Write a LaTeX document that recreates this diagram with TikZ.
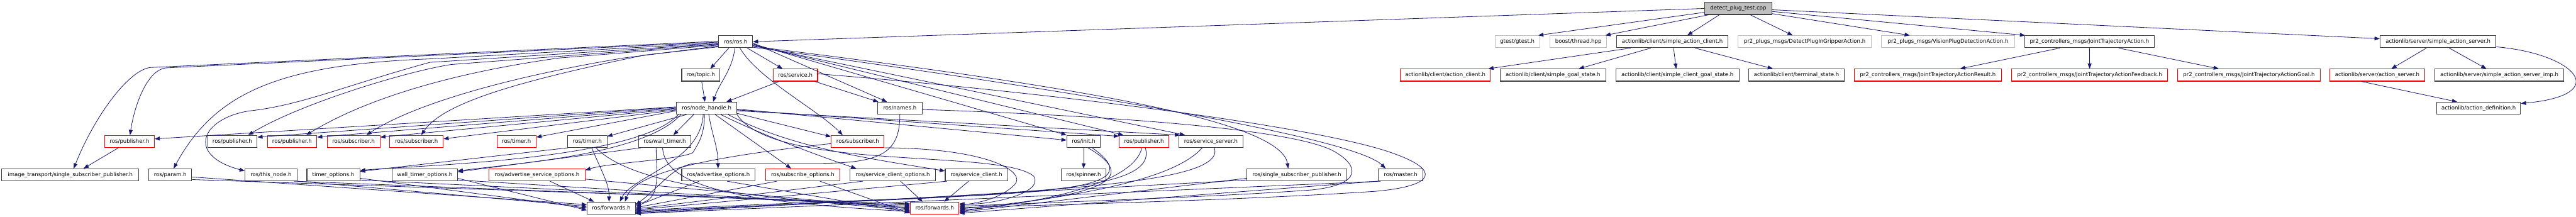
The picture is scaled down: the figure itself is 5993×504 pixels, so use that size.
\documentclass[tikz,border=0pt]{standalone}
\usepackage{fontspec}
\newfontfamily\dvs{DejaVu Sans}
\usetikzlibrary{arrows.meta}
\definecolor{edgecol}{RGB}{25,25,112}
\definecolor{boxblack}{RGB}{64,64,64}
\definecolor{boxgray}{RGB}{191,191,191}
\definecolor{boxred}{RGB}{255,0,0}
\begin{document}
\begin{tikzpicture}[x=1pt,y=-1pt,
  box/.style={draw=boxblack, line width=1.6pt, minimum height=28pt, inner sep=0pt, font=\dvs\fontsize{12.5}{15}\selectfont},
  redbox/.style={box, draw=boxred},
  graybox/.style={box, draw=boxgray},
  rootbox/.style={box, fill=boxgray},
  dep/.style={draw=edgecol, line width=1.2pt, -{Triangle[length=12pt,width=9pt]}}
]
\useasboundingbox[fill=white] (0,0) rectangle (5993,504);
% row 0
\node[rootbox, minimum width=156pt] (root) at (4044,19.7) {detect\_plug\_test.cpp};
% row 1
\node[box, minimum width=79pt] (rosh) at (1711.5,97) {ros/ros.h};
\node[graybox, minimum width=104pt] (gtest) at (3530,97) {gtest/gtest.h};
\node[graybox, minimum width=132pt] (boost) at (3672,97) {boost/thread.hpp};
\node[box, minimum width=259pt] (sac) at (3890.5,97) {actionlib/client/simple\_action\_client.h};
\node[graybox, minimum width=311pt] (dpig) at (4198.5,97) {pr2\_plugs\_msgs/DetectPlugInGripperAction.h};
\node[graybox, minimum width=310pt] (vpd) at (4532,97) {pr2\_plugs\_msgs/VisionPlugDetectionAction.h};
\node[box, minimum width=302pt] (jta) at (4861,97) {pr2\_controllers\_msgs/JointTrajectoryAction.h};
\node[box, minimum width=270pt] (sas) at (5672,97) {actionlib/server/simple\_action\_server.h};
% row 2
\node[box, minimum width=89pt] (topic) at (1630.5,174.7) {ros/topic.h};
\node[redbox, minimum width=103pt] (service) at (1850.5,174.7) {ros/service.h};
\node[redbox, minimum width=209pt] (ac) at (3362.5,174.7) {actionlib/client/action\_client.h};
\node[box, minimum width=246pt] (sgs) at (3613,174.7) {actionlib/client/simple\_goal\_state.h};
\node[box, minimum width=287pt] (scgs) at (3902.5,174.7) {actionlib/client/simple\_client\_goal\_state.h};
\node[box, minimum width=223pt] (term) at (4179.5,174.7) {actionlib/client/terminal\_state.h};
\node[redbox, minimum width=342pt] (jtar) at (4485,174.7) {pr2\_controllers\_msgs/JointTrajectoryActionResult.h};
\node[redbox, minimum width=363pt] (jtaf) at (4861.5,174.7) {pr2\_controllers\_msgs/JointTrajectoryActionFeedback.h};
\node[redbox, minimum width=332pt] (jtag) at (5232,174.7) {pr2\_controllers\_msgs/JointTrajectoryActionGoal.h};
\node[redbox, minimum width=221pt] (asrv) at (5530.5,174.7) {actionlib/server/action\_server.h};
\node[box, minimum width=301pt] (sasi) at (5814.5,174.7) {actionlib/server/simple\_action\_server\_imp.h};
% row 3
\node[box, minimum width=140pt] (nh) at (1644,251.7) {ros/node\_handle.h};
\node[box, minimum width=103pt] (names) at (2093.5,251.7) {ros/names.h};
\node[box, minimum width=195pt] (adef) at (5766.5,251.7) {actionlib/action\_definition.h};
% row 4
\node[redbox, minimum width=115pt] (pubA) at (301.5,329) {ros/publisher.h};
\node[box, minimum width=115pt] (pubB) at (540.5,329) {ros/publisher.h};
\node[redbox, minimum width=115pt] (pubC) at (679.5,329) {ros/publisher.h};
\node[redbox, minimum width=123pt] (subA) at (822.5,329) {ros/subscriber.h};
\node[redbox, minimum width=124pt] (subB) at (969,329) {ros/subscriber.h};
\node[redbox, minimum width=91pt] (timA) at (1201.5,329) {ros/timer.h};
\node[box, minimum width=91pt] (timB) at (1366.5,329) {ros/timer.h};
\node[box, minimum width=121pt] (wtim) at (1546.5,329) {ros/wall\_timer.h};
\node[redbox, minimum width=123pt] (subC) at (1995.5,329) {ros/subscriber.h};
\node[box, minimum width=78pt] (init) at (2521,329) {ros/init.h};
\node[redbox, minimum width=115pt] (pubD) at (2661.5,329) {ros/publisher.h};
\node[box, minimum width=150pt] (ssrv) at (2817,329) {ros/service\_server.h};
% row 5
\node[box, minimum width=319pt] (itssp) at (163.5,406.7) {image\_transport/single\_subscriber\_publisher.h};
\node[box, minimum width=100pt] (param) at (396,406.7) {ros/param.h};
\node[box, minimum width=121pt] (thisn) at (630.5,406.7) {ros/this\_node.h};
\node[box, minimum width=123pt] (topt) at (775.5,406.7) {timer\_options.h};
\node[box, minimum width=152pt] (wtopt) at (988,406.7) {wall\_timer\_options.h};
\node[redbox, minimum width=223pt] (asopt) at (1249.5,406.7) {ros/advertise\_service\_options.h};
\node[box, minimum width=171pt] (aopt) at (1671.5,406.7) {ros/advertise\_options.h};
\node[redbox, minimum width=173pt] (sopt) at (1867.5,406.7) {ros/subscribe\_options.h};
\node[box, minimum width=198pt] (scopt) at (2077,406.7) {ros/service\_client\_options.h};
\node[box, minimum width=145pt] (sc) at (2271.5,406.7) {ros/service\_client.h};
\node[box, minimum width=104pt] (spin) at (2521,406.7) {ros/spinner.h};
\node[box, minimum width=232pt] (ssp) at (3017,406.7) {ros/single\_subscriber\_publisher.h};
\node[box, minimum width=103pt] (master) at (3258.5,406.7) {ros/master.h};
% row 6
\node[box, minimum width=112pt] (fwdA) at (1422,484) {ros/forwards.h};
\node[redbox, minimum width=113pt] (fwdB) at (2174.5,484) {ros/forwards.h};

% ---- root
\draw[dep] (root.west) -- (rosh.east);
\draw[dep] ([yshift=-9pt]root.west) -- ([xshift=-4pt]gtest.north east);
\draw[dep] ([xshift=-69pt]root.south) -- ([xshift=-4pt]boost.north east);
\draw[dep] ([xshift=-44pt]root.south) -- ([xshift=35pt]sac.north);
\draw[dep] ([xshift=28pt]root.south) -- ([xshift=-28pt]dpig.north);
\draw[dep] ([yshift=-12pt]root.east) -- ([xshift=-89pt]vpd.north);
\draw[dep] ([yshift=-7pt]root.east) -- ([xshift=2pt]jta.north west);
\draw[dep] ([yshift=-3pt]root.east) -- ([yshift=7pt]sas.west);
% ---- simple_action_client
\draw[dep] ([xshift=-97pt]sac.south) -- ([xshift=100pt]ac.north);
\draw[dep] ([xshift=-50pt]sac.south) -- ([xshift=60pt]sgs.north);
\draw[dep] ([xshift=3pt]sac.south) -- ([xshift=-3pt]scgs.north);
\draw[dep] ([xshift=53pt]sac.south) -- ([xshift=-55pt]term.north);
% ---- JointTrajectoryAction
\draw[dep] ([xshift=-69pt]jta.south) -- ([xshift=75pt]jtar.north);
\draw[dep] (jta.south) -- (jtaf.north);
\draw[dep] ([xshift=68pt]jta.south) -- ([xshift=-70pt]jtag.north);
% ---- simple_action_server
\draw[dep] ([xshift=-27pt]sas.south) -- ([xshift=33pt]asrv.north);
\draw[dep] ([xshift=26pt]sas.south) -- ([xshift=-30pt]sasi.north);
\draw[dep] ([yshift=-12pt]sas.east) .. controls +(183,16) and +(216,-20) .. ([yshift=11pt]adef.east);
\draw[dep] ([xshift=-37pt]asrv.south) -- ([xshift=-50pt]adef.north);
% ---- ros.h
\draw[dep] ([xshift=-16pt]rosh.south) -- ([xshift=22pt]topic.north);
\draw[dep] ([xshift=-2pt]rosh.south) .. controls +(-5,50) and +(15,-45) .. ([xshift=15pt]nh.north);
\draw[dep] ([xshift=27pt]rosh.south) -- ([xshift=-30pt]service.north);
\draw[dep] ([xshift=10pt]rosh.south) .. controls +(40,70) and +(-60,-60) .. ([xshift=-35pt]subC.north);
\draw[dep] ([yshift=-3pt]rosh.east) -- ([xshift=-30pt]names.north);
\draw[dep] ([yshift=-5pt]rosh.east) -- (init.north west);
\draw[dep] ([yshift=-7pt]rosh.east) -- ([xshift=-48pt]pubD.north);
\draw[dep] ([yshift=-9pt]rosh.east) -- ([xshift=-60pt]ssrv.north);
\draw[dep] ([yshift=-11pt]rosh.east) .. controls (2500,200) and (2980,280) .. ([xshift=-20pt]ssp.north);
\draw[dep] ([yshift=-13pt]rosh.east) .. controls (2500,210) and (3150,320) .. ([xshift=-35pt]master.north);
\draw[dep] ([yshift=1pt]rosh.west) -- (350,157) .. controls (300,162) and (220,270) .. ([xshift=8pt]itssp.north);
\draw[dep] ([yshift=-1pt]rosh.west) -- (385,158) .. controls (340,165) and (312,250) .. ([xshift=1pt]pubA.north);
\draw[dep] ([yshift=-3pt]rosh.west) -- (1000,137) .. controls (650,150) and (500,215) .. ([xshift=8pt]param.north);
\draw[dep] ([yshift=-5pt]rosh.west) -- (1000,145) .. controls (800,200) and (700,245) .. (580,258) .. controls (470,275) and (430,360) .. ([yshift=9pt]thisn.west);
\draw[dep] ([yshift=-6pt]rosh.west) -- (1050,150) .. controls (950,165) and (700,240) .. ([xshift=37pt]pubB.north);
\draw[dep] ([yshift=-8pt]rosh.west) -- (1300,135) .. controls (1050,170) and (850,230) .. ([xshift=33pt]pubC.north);
\draw[dep] ([yshift=-10pt]rosh.west) -- (1450,135) .. controls (1150,185) and (950,250) .. ([xshift=30pt]subA.north);
\draw[dep] ([yshift=-12pt]rosh.west) -- (1500,128) .. controls (1200,190) and (1030,240) .. ([xshift=11pt]subB.north);
% ---- publisher -> image_transport
\draw[dep] ([xshift=-26pt]pubA.south) -- ([xshift=31pt]itssp.north);
% ---- topic, service
\draw[dep] ([xshift=2pt]topic.south) -- ([xshift=-4pt]nh.north);
\draw[dep] ([xshift=-38pt]service.south) -- ([xshift=46pt]nh.north);
\draw[dep] ([xshift=45pt]service.south) -- ([xshift=-50pt]names.north);
\draw[dep] ([yshift=3pt]service.east) .. controls (2500,220) and (3100,300) .. (3250,360) .. controls (3345,395) and (3345,432) .. (3200,445) .. controls (2900,465) and (2500,475) .. ([yshift=1pt]fwdB.east);
% ---- node_handle
\draw[dep] ([yshift=3pt]nh.west) -- ([yshift=6pt]pubA.east);
\draw[dep] ([yshift=2pt]nh.west) -- ([yshift=10pt]pubB.east);
\draw[dep] ([yshift=0pt]nh.west) -- ([yshift=10pt]pubC.east);
\draw[dep] ([yshift=-2pt]nh.west) -- ([yshift=10pt]subA.east);
\draw[dep] ([yshift=-4pt]nh.west) -- ([yshift=6pt]subB.east);
\draw[dep] ([yshift=-6pt]nh.west) -- ([yshift=10pt]timA.east);
\draw[dep] ([xshift=-47pt]nh.south) -- ([yshift=-3pt]timB.north east);
\draw[dep] ([xshift=-30pt]nh.south) -- ([xshift=20pt]wtim.north);
\draw[dep] ([yshift=-12pt]nh.east) -- ([yshift=11pt]subC.west);
\draw[dep] ([yshift=-2pt]nh.east) -- ([yshift=3pt]init.west);
\draw[dep] ([yshift=-4pt]nh.east) -- ([yshift=12pt]pubD.west);
\draw[dep] ([yshift=-6pt]nh.east) -- ([xshift=-72pt]ssrv.north);
\draw[dep] ([xshift=5pt]nh.south) .. controls +(8,50) and +(0,-50) .. ([xshift=-1pt]aopt.north);
\draw[dep] ([xshift=20pt]nh.south) -- ([xshift=-27pt]sopt.north);
\draw[dep] ([xshift=33pt]nh.south) .. controls +(100,50) and +(-60,-20) .. ([xshift=-85pt]scopt.north);
\draw[dep] ([xshift=50pt]nh.south) .. controls +(150,80) and +(-150,-25) .. ([yshift=9pt]sc.west);
\draw[dep] ([xshift=-5pt]nh.south) .. controls +(0,45) and +(15,-25) .. (1612,355) .. controls (1580,372) and (1420,378) .. ([yshift=11pt]asopt.east);
\draw[dep] ([xshift=-60pt]nh.south) .. controls (1500,360) and (1200,380) .. ([yshift=9pt]wtopt.east);
\draw[dep] ([xshift=-66pt]nh.south) .. controls (1480,375) and (950,385) .. ([yshift=10pt]topt.east);
\draw[dep] ([xshift=-8pt]nh.south) .. controls +(-6,110) and +(30,-60) .. ([xshift=20pt]fwdA.north);
\draw[dep] (nh.south east) .. controls (1800,400) and (2330,345) .. (2405,410) .. controls (2430,450) and (2300,478) .. ([yshift=10pt]fwdB.east);
% ---- timers
\draw[dep] ([xshift=-45pt]timB.south) -- ([yshift=8pt]topt.east);
\draw[dep] ([xshift=-55pt]wtim.south) -- ([yshift=7pt]wtopt.east);
% ---- init
\draw[dep] (init.south) -- (spin.north);
% ---- into forwards (black)
\draw[dep] ([yshift=-5pt]param.east) -- ([yshift=8pt]fwdA.west);
\draw[dep] (thisn.south east) -- ([yshift=4pt]fwdA.west);
\draw[dep] ([yshift=-8pt]topt.east) -- ([yshift=0pt]fwdA.west);
\draw[dep] ([yshift=-8pt]wtopt.east) -- ([yshift=-5pt]fwdA.west);
\draw[dep] ([xshift=30pt]asopt.south) -- ([xshift=-40pt]fwdA.north);
\draw[dep] ([xshift=10pt]timB.south) .. controls +(30,70) and +(0,-40) .. ([xshift=-5pt]fwdA.north);
\draw[dep] ([xshift=-20pt]wtim.south) .. controls +(0,60) and +(60,-10) .. ([yshift=10pt]fwdA.east);
\draw[dep] (names.south) .. controls +(0,90) and +(150,0) .. (1900,380) -- (1620,380) .. controls (1570,382) and (1540,430) .. ([yshift=7pt]fwdA.east);
\draw[dep] ([yshift=-5pt]subC.west) .. controls (1650,365) and (1480,400) .. ([xshift=-25pt]fwdA.north east);
\draw[dep] ([xshift=-45pt]aopt.south) -- ([yshift=4pt]fwdA.east);
\draw[dep] ([xshift=-60pt]sopt.south) -- ([yshift=1pt]fwdA.east);
\draw[dep] ([xshift=-70pt]scopt.south) -- ([yshift=-2pt]fwdA.east);
\draw[dep] ([xshift=5pt]sc.south west) -- ([yshift=-4pt]fwdA.east);
\draw[dep] ([xshift=20pt]init.south) .. controls (2720,470) and (2300,445) .. ([yshift=-6pt]fwdA.east);
\draw[dep] ([xshift=3pt]pubD.south) .. controls (2700,460) and (2300,450) .. ([yshift=-8pt]fwdA.east);
\draw[dep] ([xshift=8pt]ssrv.south) .. controls (2860,440) and (2300,450) .. ([yshift=-10pt]fwdA.east);
\draw[dep] ([yshift=-12pt]ssp.west) -- ([yshift=-12pt]fwdA.east);
\draw[dep] ([xshift=6pt]master.south west) -- ([yshift=-13pt]fwdA.east);
% ---- into forwards (red)
\draw[dep] ([yshift=-11pt]param.east) -- ([yshift=10pt]fwdB.west);
\draw[dep] ([xshift=-8pt]thisn.south east) -- ([yshift=7pt]fwdB.west);
\draw[dep] ([yshift=-12pt]topt.east) -- ([yshift=4pt]fwdB.west);
\draw[dep] ([yshift=-12pt]wtopt.east) -- ([yshift=1pt]fwdB.west);
\draw[dep] ([yshift=-10pt]asopt.east) -- ([yshift=-2pt]fwdB.west);
\draw[dep] ([xshift=20pt]timB.south) .. controls (1480,440) and (1800,460) .. ([yshift=-5pt]fwdB.west);
\draw[dep] ([xshift=-5pt]wtim.south) .. controls (1546,430) and (1700,470) .. ([yshift=-8pt]fwdB.west);
\draw[dep] ([xshift=20pt]aopt.south) -- ([yshift=-10pt]fwdB.west);
\draw[dep] ([xshift=40pt]sopt.south) -- ([yshift=-12pt]fwdB.west);
\draw[dep] ([xshift=18pt]scopt.south) -- ([xshift=-28pt]fwdB.north);
\draw[dep] ([xshift=-18pt]sc.south) -- ([xshift=22pt]fwdB.north);
\draw[dep] (subC.south east) .. controls (2300,345) and (2390,400) .. (2360,430) .. controls (2330,460) and (2280,472) .. ([yshift=7pt]fwdB.east);
\draw[dep] ([yshift=-3pt]names.east) .. controls (2600,270) and (3000,300) .. (3100,350) .. controls (3165,385) and (3170,430) .. (3050,442) .. controls (2800,460) and (2400,472) .. ([yshift=4pt]fwdB.east);
\draw[dep] ([xshift=10pt]init.south) .. controls (2680,430) and (2500,460) .. ([yshift=-2pt]fwdB.east);
\draw[dep] ([xshift=-5pt]pubD.south) .. controls (2640,420) and (2450,470) .. ([yshift=-5pt]fwdB.east);
\draw[dep] ([xshift=-20pt]ssrv.south) .. controls (2720,430) and (2450,460) .. ([yshift=-8pt]fwdB.east);
\draw[dep] ([yshift=-8pt]ssp.west) -- ([yshift=-10pt]fwdB.east);
\draw[dep] (master.south west) -- ([yshift=-12pt]fwdB.east);
\end{tikzpicture}
\end{document}
